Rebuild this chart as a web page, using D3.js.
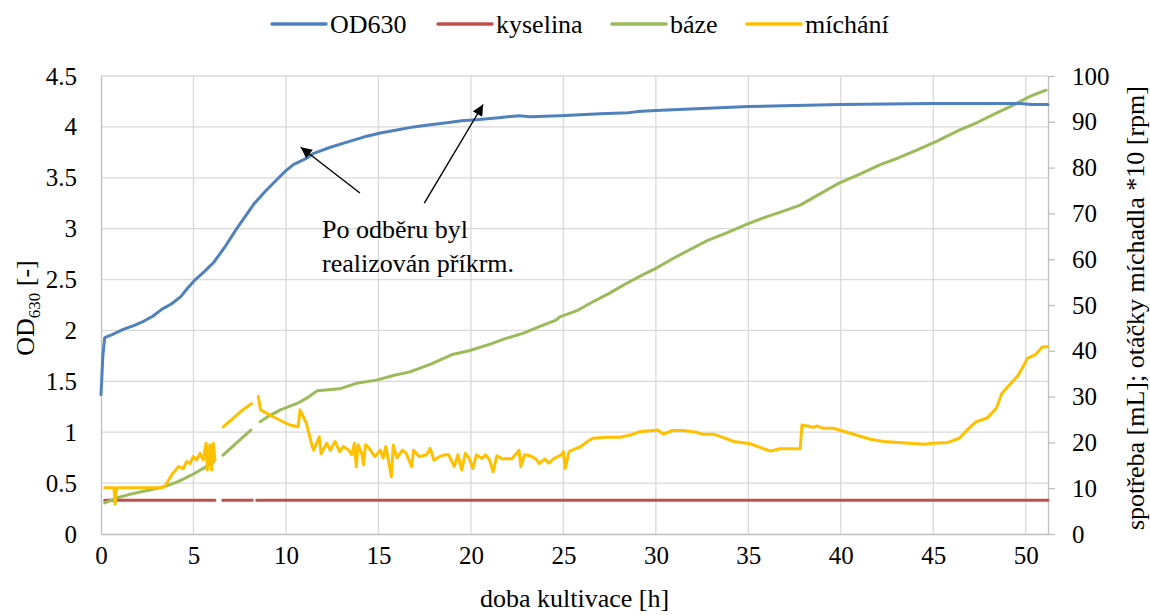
<!DOCTYPE html>
<html>
<head>
<meta charset="utf-8">
<script src="https://cdn.jsdelivr.net/npm/d3@7"></script>
<style>
  body { margin: 0; background: #fff; }
</style>
</head>
<body>
<div id="chart"></div>
<script>
// data: [hour, value], null = gap in the record
var od630 = [[0,1.37],[0.1,1.75],[0.2,1.93],[0.6,1.96],[1.2,2.01],[1.8,2.05],[2.3,2.09],[2.8,2.14],[3.3,2.21],[3.8,2.26],[4.3,2.33],[4.7,2.42],[5.1,2.50],[5.6,2.58],[6.1,2.67],[6.7,2.82],[7.3,2.99],[7.8,3.12],[8.3,3.25],[8.9,3.37],[9.5,3.48],[10.0,3.57],[10.4,3.63],[11.1,3.69],[11.5,3.74],[12.4,3.80],[13.3,3.85],[14.2,3.90],[15.1,3.94],[16.0,3.97],[16.9,4.00],[17.8,4.02],[18.7,4.04],[19.5,4.06],[20.3,4.07],[21.5,4.09],[22.6,4.11],[23.2,4.10],[24.8,4.11],[27.0,4.13],[28.5,4.14],[29.0,4.15],[30.0,4.16],[32.5,4.18],[35.0,4.20],[37.5,4.21],[40.0,4.22],[42.5,4.225],[45.0,4.23],[47.5,4.23],[49.7,4.23],[50.3,4.22],[51.2,4.22]];

var kyselina = [[0.2,7.35],[6.16,7.35],[6.3,null],[6.58,7.35],[8.18,7.35],[8.3,null],[8.42,7.35],[51.2,7.35]];

var baze = [[0.2,6.8],[0.8,7.8],[1.6,8.7],[2.5,9.5],[3.4,10.3],[4.2,11.5],[5.0,13.1],[5.6,14.5],[6.1,15.8],[6.3,null],[6.6,17.2],[7.3,19.8],[8.1,22.7],[8.3,null],[8.6,24.5],[9.1,25.8],[9.7,27.1],[10.6,28.5],[11.1,29.6],[11.7,31.3],[12.9,31.7],[13.8,32.9],[14.9,33.6],[15.8,34.6],[16.7,35.4],[17.9,37.2],[19.0,39.2],[19.9,40.0],[21.0,41.4],[21.9,42.7],[22.8,43.8],[23.7,45.3],[24.6,46.7],[24.8,47.4],[25.7,48.7],[26.6,50.7],[27.5,52.6],[28.4,54.7],[29.2,56.4],[30.0,58.0],[30.9,60.1],[31.8,62.0],[32.8,64.1],[33.8,65.7],[34.9,67.6],[36.0,69.3],[36.9,70.5],[37.8,71.8],[38.8,74.1],[39.9,76.6],[41.0,78.5],[42.1,80.6],[43.1,82.1],[44.1,83.8],[45.2,85.8],[46.4,88.2],[47.4,89.9],[48.4,91.9],[49.3,93.6],[50.2,95.5],[50.7,96.3],[51.1,96.9]];

var michani = [[0.2,10.1],[0.7,10.1],[0.76,6.5],[0.85,10.1],[1.5,10.1],[2.5,10.1],[3.3,10.1],[3.46,10.4],[3.82,12.9],[4.18,14.7],[4.45,14.3],[4.63,15.8],[4.81,15.4],[4.99,16.9],[5.17,16.2],[5.35,17.6],[5.53,16.2],[5.68,19.8],[5.75,14.0],[5.89,19.5],[5.98,14.0],[6.07,19.8],[6.16,16.2],[6.3,null],[6.61,23.4],[6.9,24.4],[7.15,25.3],[7.6,26.9],[8.14,28.5],[8.3,null],[8.5,30.1],[8.63,27.1],[9.3,25.6],[10.2,23.8],[10.66,23.4],[10.76,27.1],[11.1,24.2],[11.4,19.4],[11.5,18.3],[11.8,21.2],[11.9,17.5],[12.2,19.8],[12.4,18.3],[12.65,20.2],[12.9,18.0],[13.1,19.1],[13.4,18.3],[13.55,17.3],[13.7,19.8],[13.8,14.7],[13.9,19.5],[14.1,17.6],[14.2,15.1],[14.3,19.5],[14.5,18.7],[14.8,16.9],[15.1,18.3],[15.25,16.6],[15.4,19.1],[15.7,12.5],[15.8,19.4],[16.0,16.6],[16.3,18.3],[16.5,17.6],[16.8,14.7],[16.9,18.3],[17.2,16.9],[17.6,17.3],[17.8,18.7],[18.0,16.1],[18.3,16.9],[18.6,17.3],[18.8,17.3],[19.1,14.7],[19.3,17.3],[19.5,14.0],[19.7,17.6],[19.9,16.6],[20.1,14.3],[20.3,17.3],[20.6,16.5],[20.8,17.3],[21.0,16.2],[21.2,13.6],[21.4,17.1],[21.7,16.4],[21.9,16.5],[22.2,16.4],[22.4,17.3],[22.6,18.3],[22.7,14.7],[22.9,17.3],[23.2,17.1],[23.5,16.4],[23.7,15.4],[24.0,16.4],[24.2,15.5],[24.5,16.5],[24.9,17.3],[25.0,18.0],[25.1,14.3],[25.3,18.0],[25.7,18.7],[25.9,19.0],[26.4,20.5],[26.6,20.9],[27.3,21.1],[28.05,21.1],[28.6,21.6],[29.1,22.3],[30.1,22.7],[30.4,21.8],[30.9,22.6],[31.5,22.6],[32.2,22.2],[32.5,21.8],[33.1,21.8],[33.7,21.0],[34.2,20.2],[35.1,19.7],[35.7,18.8],[36.2,18.1],[36.7,18.6],[37.8,18.6],[37.9,23.8],[38.5,23.3],[38.7,23.6],[39.0,23.1],[39.6,23.1],[40.5,22.0],[41.6,20.7],[42.3,20.2],[43.7,19.8],[44.5,19.6],[45.0,19.8],[45.8,20.0],[46.4,20.9],[46.9,23.0],[47.3,24.5],[47.9,25.3],[48.4,27.4],[48.7,30.7],[49.6,34.7],[50.1,38.4],[50.5,39.1],[50.9,40.9],[51.2,40.9]];

var xTicks = [0, 5, 10, 15, 20, 25, 30, 35, 40, 45, 50];
var leftTicks = [0, 0.5, 1, 1.5, 2, 2.5, 3, 3.5, 4, 4.5];
var rightTicks = [0, 10, 20, 30, 40, 50, 60, 70, 80, 90, 100];

var seriesNames = ['OD630', 'kyselina', 'báze', 'míchání'];
var noteLines = ['Po odběru byl', 'realizován příkrm.'];

// set the dimensions of the graph
var width = 1150,
    height = 615,
    mLeft = 101, mRight = 1048, mTop = 76, mBottom = 534;

var serif = 'Tinos, "Liberation Serif", "Noto Serif", "DejaVu Serif", FreeSerif, "Times New Roman", Times, serif';
var colors = ['#4F81BD', '#C0504D', '#9BBB59', '#FFC000'];

var svg = d3.select('#chart')
  .append('svg')
    .attr('width', width)
    .attr('height', height)
    .attr('font-family', serif);

var x = d3.scaleLinear().domain([0, 51.2]).range([mLeft, mRight]);
var yL = d3.scaleLinear().domain([0, 4.5]).range([mBottom, mTop]);
var yR = d3.scaleLinear().domain([0, 100]).range([mBottom, mTop]);

// gridlines
svg.append('g')
  .selectAll('line')
  .data(xTicks.slice(1))
  .enter().append('line')
    .attr('x1', d => x(d)).attr('x2', d => x(d))
    .attr('y1', mTop).attr('y2', mBottom)
    .attr('stroke', '#d9d9d9').attr('stroke-width', 1.3);

svg.append('g')
  .selectAll('line')
  .data(leftTicks.slice(1))
  .enter().append('line')
    .attr('x1', mLeft).attr('x2', mRight)
    .attr('y1', d => yL(d)).attr('y2', d => yL(d))
    .attr('stroke', '#d9d9d9').attr('stroke-width', 1.3);

// axes
function styleAxis(g) {
  g.attr('font-family', serif).attr('font-size', 25);
  g.select('.domain').attr('stroke', '#bfbfbf').attr('stroke-width', 1.3);
  g.selectAll('.tick line').attr('stroke', '#bfbfbf').attr('stroke-width', 1.3);
  g.selectAll('.tick text').attr('fill', '#000');
}

svg.append('g')
  .attr('transform', 'translate(0,' + mBottom + ')')
  .call(d3.axisBottom(x).tickValues(xTicks).tickSize(0).tickPadding(12).tickFormat(d => d))
  .call(styleAxis);

svg.append('g')
  .attr('transform', 'translate(' + mLeft + ',0)')
  .call(d3.axisLeft(yL).tickValues(leftTicks).tickSize(0).tickPadding(24).tickFormat(d => d))
  .call(styleAxis);

svg.append('g')
  .attr('transform', 'translate(' + mRight + ',0)')
  .call(d3.axisRight(yR).tickValues(rightTicks).tickSizeInner(7).tickSizeOuter(0).tickPadding(17).tickFormat(d => d))
  .call(styleAxis);

// lines
function drawLine(data, yScale, color) {
  var line = d3.line()
    .defined(d => d[1] !== null)
    .x(d => x(d[0]))
    .y(d => yScale(d[1]));
  svg.append('path')
    .datum(data)
    .attr('d', line)
    .attr('fill', 'none')
    .attr('stroke', color)
    .attr('stroke-width', 3)
    .attr('stroke-linejoin', 'round')
    .attr('stroke-linecap', 'round');
}

drawLine(kyselina, yR, colors[1]);
drawLine(baze, yR, colors[2]);
drawLine(michani, yR, colors[3]);
drawLine(od630, yL, colors[0]);

// annotation arrows
svg.append('defs').append('marker')
    .attr('id', 'arrow')
    .attr('viewBox', '0 0 10 10')
    .attr('refX', 10).attr('refY', 5)
    .attr('markerWidth', 14).attr('markerHeight', 11)
    .attr('markerUnits', 'userSpaceOnUse')
    .attr('orient', 'auto')
  .append('path')
    .attr('d', 'M0,0L10,5L0,10Z')
    .attr('fill', '#000');

var arrows = [[[14.0, 3.35], [10.8, 3.80]], [[17.48, 3.25], [20.66, 4.22]]];
svg.append('g')
  .selectAll('line')
  .data(arrows)
  .enter().append('line')
    .attr('x1', d => x(d[0][0])).attr('y1', d => yL(d[0][1]))
    .attr('x2', d => x(d[1][0])).attr('y2', d => yL(d[1][1]))
    .attr('stroke', '#000').attr('stroke-width', 1.4)
    .attr('marker-end', 'url(#arrow)');

svg.append('g')
  .selectAll('text')
  .data(noteLines)
  .enter().append('text')
    .attr('x', x(11.95))
    .attr('y', (d, i) => 238 + i * 34)
    .attr('font-size', 26)
    .text(d => d);

// legend
var legendX = [272, 438, 612, 747];
var legend = svg.append('g').selectAll('g')
  .data(seriesNames)
  .enter().append('g')
    .attr('transform', (d, i) => 'translate(' + legendX[i] + ',24)');
legend.append('line')
  .attr('x1', 0).attr('x2', 54)
  .attr('stroke', (d, i) => colors[i])
  .attr('stroke-width', 3.5).attr('stroke-linecap', 'round');
legend.append('text')
  .attr('x', 58).attr('y', 9)
  .attr('font-size', 26)
  .text(d => d);

// axis titles
svg.append('text')
  .attr('x', (mLeft + mRight) / 2).attr('y', 607)
  .attr('text-anchor', 'middle')
  .attr('font-size', 26)
  .text('doba kultivace [h]');

var lt = svg.append('text')
  .attr('transform', 'translate(34,308) rotate(-90)')
  .attr('text-anchor', 'middle')
  .attr('font-size', 26);
lt.append('tspan').text('OD');
lt.append('tspan').attr('dy', 6).attr('font-size', 17).text('630');
lt.append('tspan').attr('dy', -6).text(' [-]');

svg.append('text')
  .attr('transform', 'translate(1144,308) rotate(-90)')
  .attr('text-anchor', 'middle')
  .attr('font-size', 26)
  .text('spotřeba [mL]; otáčky míchadla *10 [rpm]');
</script>
</body>
</html>
